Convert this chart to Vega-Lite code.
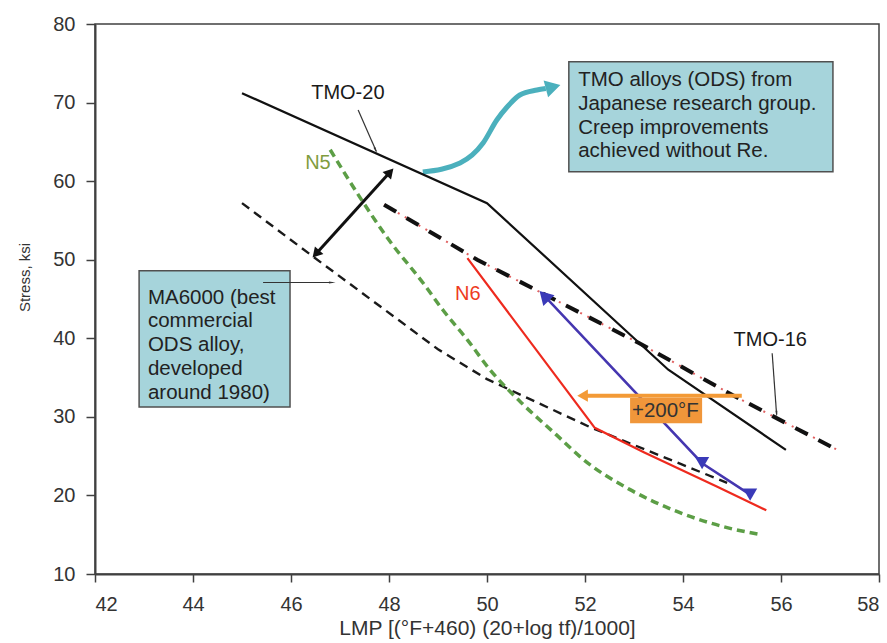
{
  "$schema": "https://vega.github.io/schema/vega-lite/v6.json",
  "width": 784,
  "height": 550,
  "autosize": {"type": "none"},
  "padding": {"left": 95, "top": 24, "right": 8, "bottom": 69},
  "background": "white",
  "config": {
    "font": "Liberation Sans",
    "view": {"stroke": "#404040", "strokeWidth": 1.5},
    "axis": {
      "grid": false,
      "domainColor": "#404040",
      "domainWidth": 2,
      "tickColor": "#404040",
      "tickWidth": 1.5,
      "labelColor": "#333333",
      "titleColor": "#333333",
      "labelFontSize": 20,
      "titleFontWeight": "normal"
    }
  },
  "datasets": {
    "tmo20": [{"x": 45.0, "y": 71.2}, {"x": 50.0, "y": 57.2}, {"x": 53.7, "y": 36.0}, {"x": 56.1, "y": 25.8}],
    "tmo16": [{"x": 47.9, "y": 57.0}, {"x": 49.8, "y": 50.0}, {"x": 53.1, "y": 39.4}, {"x": 55.0, "y": 32.8}, {"x": 57.15, "y": 25.8}],
    "ma6000": [{"x": 45.0, "y": 57.2}, {"x": 46.45, "y": 50.4}, {"x": 49.0, "y": 38.6}, {"x": 50.0, "y": 34.8}, {"x": 52.1, "y": 28.7}, {"x": 54.9, "y": 21.6}],
    "n5": [{"x": 46.8, "y": 64.0}, {"x": 47.4, "y": 58.0}, {"x": 48.0, "y": 52.5}, {"x": 48.7, "y": 47.0}, {"x": 49.1, "y": 43.6}, {"x": 49.6, "y": 39.8}, {"x": 50.06, "y": 36.0}, {"x": 50.7, "y": 31.8}, {"x": 51.4, "y": 27.8}, {"x": 52.0, "y": 24.4}, {"x": 52.9, "y": 20.8}, {"x": 53.9, "y": 17.9}, {"x": 54.9, "y": 15.9}, {"x": 55.6, "y": 15.0}],
    "n6": [{"x": 49.6, "y": 50.2}, {"x": 52.2, "y": 28.6}, {"x": 53.2, "y": 25.5}, {"x": 54.7, "y": 21.1}, {"x": 55.7, "y": 18.1}],
    "blue": [{"x": 51.2, "y": 45.2}, {"x": 54.39, "y": 24.1}, {"x": 55.37, "y": 20.1}],
    "blueMarks": [{"x": 54.39, "y": 24.1}, {"x": 55.37, "y": 20.1}],
    "blueHead": [{"x": 51.2, "y": 45.2}],
    "teal": [{"o": 1, "x": 48.69, "y": 61.16}, {"o": 2, "x": 49.45, "y": 62.31}, {"o": 3, "x": 49.92, "y": 64.85}, {"o": 4, "x": 50.2, "y": 67.78}, {"o": 5, "x": 50.41, "y": 69.44}, {"o": 6, "x": 50.67, "y": 70.96}, {"o": 7, "x": 51.02, "y": 71.6}, {"o": 8, "x": 51.2, "y": 71.8}],
    "tealHead": [{"x": 51.3, "y": 71.9}],
    "pointers": [
      {"x": 47.37, "y": 69.05, "x2": 47.74, "y2": 63.8},
      {"x": 55.82, "y": 38.1, "x2": 55.91, "y2": 30.3},
      {"x": 45.43, "y": 47.1, "x2": 46.85, "y2": 47.1}
    ],
    "headTMO20": [{"x": 47.72, "y": 64.04}],
    "headTMO16": [{"x": 55.91, "y": 30.49}],
    "headMA": [{"x": 46.82, "y": 47.1}],
    "dbl": [{"x": 46.53, "y": 50.9, "x2": 48.0, "y2": 60.99}],
    "dblUp": [{"x": 48.0, "y": 60.99}],
    "dblDown": [{"x": 46.53, "y": 50.9}],
    "orange": [{"x": 51.95, "y": 32.7, "x2": 55.2, "y2": 32.7}],
    "orangeHead": [{"x": 51.95, "y": 32.7}],
    "boxes": [
      {"name": "MA6000", "x": 42.9, "x2": 45.98, "y": 48.6, "y2": 31.25},
      {"name": "TMO", "x": 51.67, "x2": 57.06, "y": 75.2, "y2": 61.2}
    ],
    "boxTexts": [
      {"x": 43.08, "y": 46.46, "t": "MA6000 (best\ncommercial\nODS alloy,\ndeveloped\naround 1980)"},
      {"x": 51.86, "y": 74.15, "t": "TMO alloys (ODS) from\nJapanese research group.\nCreep improvements\nachieved without Re."}
    ],
    "orangeBox": [{"x": 52.92, "x2": 54.39, "y": 32.4, "y2": 29.18}],
    "orangeText": [{"x": 53.64, "y": 30.75, "t": "+200°F"}],
    "labels": [
      {"x": 47.16, "y": 71.2, "t": "TMO-20"},
      {"x": 55.78, "y": 39.8, "t": "TMO-16"},
      {"x": 46.55, "y": 62.3, "t": "N5"},
      {"x": 49.61, "y": 45.6, "t": "N6"}
    ]
  },
  "encoding": {
    "x": {
      "field": "x", "type": "quantitative",
      "scale": {"domain": [42, 58], "nice": false, "zero": false},
      "axis": {
        "values": [42, 44, 46, 48, 50, 52, 54, 56, 58],
        "title": "LMP [(°F+460) (20+log tf)/1000]",
        "titleFontSize": 21,
        "tickSize": 8,
        "labelPadding": 12,
        "titleY": 54,
        "titleBaseline": "middle"
      }
    },
    "y": {
      "field": "y", "type": "quantitative",
      "scale": {"domain": [10, 80], "nice": false, "zero": false},
      "axis": {
        "values": [10, 20, 30, 40, 50, 60, 70, 80],
        "title": "Stress, ksi",
        "titleFontSize": 15,
        "tickSize": 9,
        "labelPadding": 11,
        "titleX": -71,
        "titleY": 253,
        "titleBaseline": "middle"
      }
    }
  },
  "layer": [
    {
      "data": {"name": "boxes"},
      "mark": {"type": "rect", "fill": "#a6d4db", "stroke": "#505050", "strokeWidth": 1.5},
      "encoding": {"x2": {"field": "x2"}, "y2": {"field": "y2"}}
    },
    {
      "data": {"name": "boxTexts"},
      "mark": {"type": "text", "align": "left", "baseline": "top", "fontSize": 20.5, "lineBreak": "\n", "lineHeight": 23.8, "color": "#222222"},
      "encoding": {"text": {"field": "t"}}
    },
    {
      "data": {"name": "teal"},
      "mark": {"type": "line", "color": "#4bb0bd", "strokeWidth": 5, "interpolate": "monotone"},
      "encoding": {"order": {"field": "o"}}
    },
    {
      "data": {"name": "tealHead"},
      "mark": {"type": "point", "shape": "triangle", "angle": 75, "filled": true, "color": "#4bb0bd", "size": 300, "opacity": 1},
      "encoding": {}
    },
    {
      "data": {"name": "ma6000"},
      "mark": {"type": "line", "color": "#1a1a1a", "strokeWidth": 2.4, "strokeDash": [9, 6]},
      "encoding": {}
    },
    {
      "data": {"name": "n5"},
      "mark": {"type": "line", "color": "#5c9e46", "strokeWidth": 3.5, "strokeDash": [8, 5], "interpolate": "monotone"},
      "encoding": {}
    },
    {
      "data": {"name": "tmo16"},
      "mark": {"type": "line", "color": "#e06060", "strokeWidth": 2, "strokeDash": [2, 6], "strokeDashOffset": 0},
      "encoding": {}
    },
    {
      "data": {"name": "tmo16"},
      "mark": {"type": "line", "color": "#111111", "strokeWidth": 4, "strokeDash": [14, 12]},
      "encoding": {}
    },
    {
      "data": {"name": "tmo20"},
      "mark": {"type": "line", "color": "#111111", "strokeWidth": 2.2},
      "encoding": {}
    },
    {
      "data": {"name": "n6"},
      "mark": {"type": "line", "color": "#ee2a1e", "strokeWidth": 2.2},
      "encoding": {}
    },
    {
      "data": {"name": "blue"},
      "mark": {"type": "line", "color": "#4536b0", "strokeWidth": 2.5},
      "encoding": {}
    },
    {
      "data": {"name": "blueMarks"},
      "mark": {"type": "point", "shape": "triangle-down", "filled": true, "color": "#3a3ab8", "size": 200, "opacity": 1},
      "encoding": {}
    },
    {
      "data": {"name": "blueHead"},
      "mark": {"type": "point", "shape": "triangle", "angle": 316, "filled": true, "color": "#3a3ab8", "size": 240, "opacity": 1},
      "encoding": {}
    },
    {
      "data": {"name": "pointers"},
      "mark": {"type": "rule", "color": "#333333", "strokeWidth": 1.2},
      "encoding": {"x2": {"field": "x2"}, "y2": {"field": "y2"}}
    },
    {
      "data": {"name": "headTMO20"},
      "mark": {"type": "point", "shape": "wedge", "angle": 156, "filled": true, "color": "#333333", "size": 60, "opacity": 1},
      "encoding": {}
    },
    {
      "data": {"name": "headTMO16"},
      "mark": {"type": "point", "shape": "wedge", "angle": 176, "filled": true, "color": "#333333", "size": 60, "opacity": 1},
      "encoding": {}
    },
    {
      "data": {"name": "headMA"},
      "mark": {"type": "point", "shape": "wedge", "angle": 90, "filled": true, "color": "#333333", "size": 60, "opacity": 1},
      "encoding": {}
    },
    {
      "data": {"name": "dbl"},
      "mark": {"type": "rule", "color": "#111111", "strokeWidth": 3},
      "encoding": {"x2": {"field": "x2"}, "y2": {"field": "y2"}}
    },
    {
      "data": {"name": "dblUp"},
      "mark": {"type": "point", "shape": "triangle", "angle": 42, "filled": true, "color": "#111111", "size": 130, "opacity": 1},
      "encoding": {}
    },
    {
      "data": {"name": "dblDown"},
      "mark": {"type": "point", "shape": "triangle", "angle": 222, "filled": true, "color": "#111111", "size": 130, "opacity": 1},
      "encoding": {}
    },
    {
      "data": {"name": "orange"},
      "mark": {"type": "rule", "color": "#f39a36", "strokeWidth": 4},
      "encoding": {"x2": {"field": "x2"}, "y2": {"field": "y2"}}
    },
    {
      "data": {"name": "orangeHead"},
      "mark": {"type": "point", "shape": "triangle-left", "filled": true, "color": "#f39a36", "size": 150, "opacity": 1},
      "encoding": {}
    },
    {
      "data": {"name": "orangeBox"},
      "mark": {"type": "rect", "fill": "#f0963a"},
      "encoding": {"x2": {"field": "x2"}, "y2": {"field": "y2"}}
    },
    {
      "data": {"name": "orangeText"},
      "mark": {"type": "text", "align": "center", "baseline": "middle", "fontSize": 20.5, "color": "#333333"},
      "encoding": {"text": {"field": "t"}}
    },
    {
      "data": {"name": "labels"},
      "mark": {"type": "text", "align": "center", "baseline": "middle", "fontSize": 20},
      "encoding": {
        "text": {"field": "t"},
        "color": {
          "field": "t", "type": "nominal", "legend": null,
          "scale": {"domain": ["TMO-20", "TMO-16", "N5", "N6"], "range": ["#1a1a1a", "#1a1a1a", "#7f9c3e", "#ee3a22"]}
        }
      }
    }
  ]
}
